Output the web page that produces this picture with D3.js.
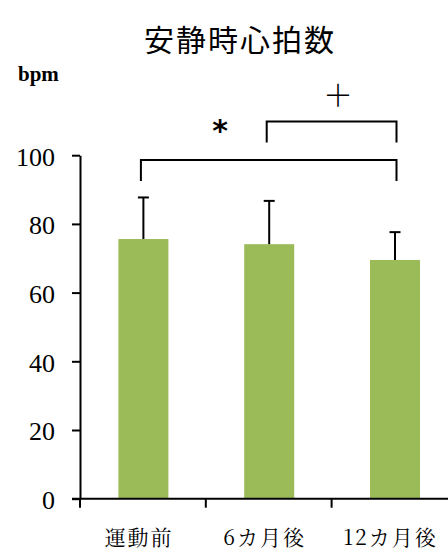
<!DOCTYPE html>
<html>
<head>
<meta charset="utf-8">
<script src="https://cdn.jsdelivr.net/npm/d3@7"></script>
<style>
  html, body { margin: 0; padding: 0; background: #fff; }
  svg { display: block; }
  .serif { font-family: "Liberation Serif", "DejaVu Serif", serif; }
  .cjk { font-family: "Noto Sans CJK JP", sans-serif; }
  .cjkserif { font-family: "Noto Serif CJK JP", "Noto Sans CJK JP", serif; }
</style>
</head>
<body>
<div id="chart"></div>
<script>
// chart data
var categories = ["運動前", "6カ月後", "12カ月後"];
var means = [75.6, 74.1, 69.5];
var sds = [12.1, 12.6, 8.1];
var yTicks = [0, 20, 40, 60, 80, 100];
// significance brackets: from / to category index, level in bpm, mark
var bracketFrom = [0, 1];
var bracketTo = [2, 2];
var bracketLevel = [98.6, 109.8];
var bracketMarks = ["*", "＋"];

var W = 448, H = 551;
var margin = { top: 155.2, left: 80 },
  plotBottom = 498.7,
  step = 125.8;

var svg = d3.select("#chart").append("svg")
  .attr("width", W)
  .attr("height", H);

// set the ranges
var y = d3.scaleLinear()
  .domain([0, 100])
  .range([plotBottom, margin.top]);

var x = d3.scaleBand()
  .domain(categories)
  .range([margin.left, margin.left + step * categories.length])
  .padding(0);

var barW = 50;
var cx = function (c) { return x(c) + x.bandwidth() / 2; };

// title
svg.append("text")
  .attr("class", "cjk")
  .attr("x", 240)
  .attr("y", 51)
  .attr("text-anchor", "middle")
  .style("font-size", "30px")
  .style("letter-spacing", "2px")
  .attr("fill", "#000")
  .text("安静時心拍数");

// unit label
svg.append("text")
  .attr("class", "serif")
  .attr("x", 18)
  .attr("y", 81)
  .style("font-weight", "bold")
  .style("font-size", "21px")
  .attr("fill", "#000")
  .text("bpm");

// bars
svg.selectAll(".bar")
  .data(categories)
  .enter().append("rect")
  .attr("class", "bar")
  .attr("x", function (d) { return cx(d) - barW / 2 + 0.5; })
  .attr("y", function (d, i) { return y(means[i]); })
  .attr("width", barW)
  .attr("height", function (d, i) { return plotBottom - y(means[i]); })
  .attr("fill", "#9bbb59");

// error bars (upper only)
var err = svg.append("g")
  .attr("stroke", "#000")
  .attr("stroke-width", 2);
categories.forEach(function (c, i) {
  var xc = cx(c) + 0.5;
  err.append("line")
    .attr("x1", xc).attr("x2", xc)
    .attr("y1", y(means[i])).attr("y2", y(means[i] + sds[i]));
  err.append("line")
    .attr("x1", xc - 5.5).attr("x2", xc + 5.5)
    .attr("y1", y(means[i] + sds[i])).attr("y2", y(means[i] + sds[i]));
});

// y axis
var yAxis = svg.append("g")
  .attr("transform", "translate(" + margin.left + ",0)")
  .call(d3.axisLeft(y).tickValues(yTicks).tickSize(8).tickPadding(17).tickSizeOuter(0));
yAxis.attr("font-family", null).attr("font-size", null);
yAxis.select(".domain").attr("stroke", "#000").attr("stroke-width", 2);
yAxis.selectAll(".tick line").attr("stroke", "#000").attr("stroke-width", 2);
yAxis.selectAll(".tick text")
  .attr("class", "serif")
  .style("font-size", "26px")
  .attr("fill", "#000")
  .attr("dy", "0.38em");

// x axis: baseline with ticks between categories
var xAxis = svg.append("g").attr("stroke", "#000").attr("stroke-width", 2);
xAxis.append("line")
  .attr("x1", 72).attr("x2", W + 20)
  .attr("y1", plotBottom).attr("y2", plotBottom);
categories.forEach(function (c) {
  xAxis.append("line")
    .attr("x1", x(c)).attr("x2", x(c))
    .attr("y1", plotBottom).attr("y2", plotBottom + 9);
});

svg.selectAll(".xlabel")
  .data(categories)
  .enter().append("text")
  .attr("class", "cjkserif")
  .attr("x", function (d) { return cx(d) - 4; })
  .attr("y", 545)
  .attr("text-anchor", "middle")
  .style("font-size", "21px")
  .style("letter-spacing", "2px")
  .attr("fill", "#000")
  .text(function (d) { return d; });

// significance brackets
var br = svg.append("g");
bracketFrom.forEach(function (f, i) {
  var x1 = cx(categories[f]) - 2,
    x2 = cx(categories[bracketTo[i]]) + 2,
    yl = y(bracketLevel[i]),
    drop = 21;
  br.append("path")
    .attr("d", "M" + x1 + "," + (yl + drop) + "V" + yl + "H" + x2 + "V" + (yl + drop))
    .attr("fill", "none")
    .attr("stroke", "#000")
    .attr("stroke-width", 2);
});
// marks
svg.append("text")
  .attr("x", 220)
  .attr("y", 141)
  .attr("text-anchor", "middle")
  .style("font-family", "'DejaVu Sans', sans-serif")
  .style("font-weight", "bold")
  .style("font-size", "30px")
  .attr("fill", "#000")
  .text(bracketMarks[0]);
svg.append("text")
  .attr("class", "cjk")
  .attr("x", 338)
  .attr("y", 106)
  .attr("text-anchor", "middle")
  .style("font-weight", 300)
  .style("font-size", "30px")
  .attr("fill", "#000")
  .text(bracketMarks[1]);
</script>
</body>
</html>
